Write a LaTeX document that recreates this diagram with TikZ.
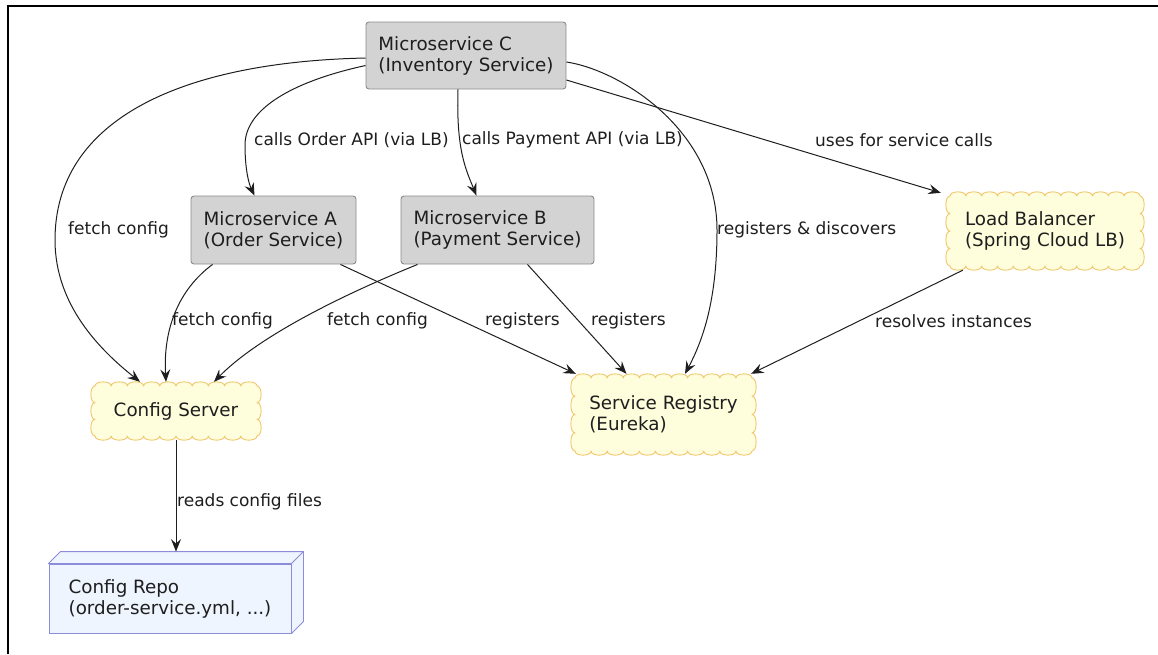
\documentclass[tikz,border=0pt]{standalone}
\usepackage{fontspec}
\setmainfont{DejaVu Sans}
\usetikzlibrary{arrows.meta,calc}

\definecolor{boxfill}{HTML}{D3D3D3}
\definecolor{boxline}{HTML}{8C8C8C}
\definecolor{cloudfill}{HTML}{FEFDDC}
\definecolor{cloudline}{HTML}{F2C66C}
\definecolor{repofill}{HTML}{EEF5FE}
\definecolor{repoline}{HTML}{8C8CDA}
\definecolor{ink}{HTML}{1E1E1E}

\tikzset{
  base/.style={text=ink, align=left, inner sep=0pt},
  nodetext/.style={base, font=\fontsize{18.3}{21}\selectfont},
  svcbox/.style={nodetext, draw=boxline, fill=boxfill, line width=0.9pt, rounded corners=3pt},
  cloudbox/.style={nodetext},
  cloudstyle/.style={draw=cloudline, fill=cloudfill, line width=0.9pt, line join=round},
  repobox/.style={nodetext, draw=repoline, fill=repofill, line width=0.9pt},
  conn/.style={draw=ink, line width=1pt, -{Stealth[length=12.5pt,width=10pt,inset=4.5pt]}},
  lbl/.style={base, font=\fontsize{17}{21}\selectfont, anchor=west},
}

% scalloped outline around the inner rectangle (x1,y1)-(x2,y2), nx bumps across, ny bumps down
\newcommand{\drawcloud}[6]{%
  \pgfmathsetmacro\cxa{#1}\pgfmathsetmacro\cya{#2}%
  \pgfmathsetmacro\cxb{#3}\pgfmathsetmacro\cyb{#4}%
  \pgfmathsetmacro\csx{(#3-#1)/#5}\pgfmathsetmacro\csy{(#4-#2)/#6}%
  \filldraw[cloudstyle] (\cxa,\cya)
    \foreach \i in {1,...,#5} { .. controls ({\cxa+(\i-1)*\csx},{\cya-5.5}) and ({\cxa+\i*\csx},{\cya-5.5}) .. ({\cxa+\i*\csx},\cya) }
    \foreach \i in {1,...,#6} { .. controls ({\cxb+5.5},{\cya+(\i-1)*\csy}) and ({\cxb+5.5},{\cya+\i*\csy}) .. (\cxb,{\cya+\i*\csy}) }
    \foreach \i in {1,...,#5} { .. controls ({\cxb-(\i-1)*\csx},{\cyb+5.5}) and ({\cxb-\i*\csx},{\cyb+5.5}) .. ({\cxb-\i*\csx},\cyb) }
    \foreach \i in {1,...,#6} { .. controls ({\cxa-5.5},{\cyb-(\i-1)*\csy}) and ({\cxa-5.5},{\cyb-\i*\csy}) .. (\cxa,{\cyb-\i*\csy}) }
    -- cycle;
}

\begin{document}
\begin{tikzpicture}[x=1pt, y=-1pt]
\useasboundingbox (0,0) rectangle (1158,654);

% outer frame edges
\draw[line width=1.4pt, black] (8,654) -- (8,6) -- (1158,6);

% services
\node[svcbox, minimum width=200pt, minimum height=67pt] (C) at (466,55.5)
  {Microservice C\\(Inventory Service)};
\node[svcbox, minimum width=165pt, minimum height=68pt] (A) at (273.5,230)
  {Microservice A\\(Order Service)};
\node[svcbox, minimum width=193pt, minimum height=68pt] (B) at (497.5,230)
  {Microservice B\\(Payment Service)};

% infrastructure clouds
\drawcloud{950}{196}{1140}{266}{12}{4}
\node[cloudbox, minimum width=200pt, minimum height=78pt] (LB) at (1045,231)
  {Load Balancer\\(Spring Cloud LB)};
\drawcloud{95}{386}{257}{436}{10}{3}
\node[cloudbox, minimum width=172pt, minimum height=58pt] (CS) at (176,411)
  {Config Server};
\drawcloud{575}{378}{752}{451}{11}{4}
\node[cloudbox, minimum width=187pt, minimum height=81pt] (SR) at (663.5,414.5)
  {Service Registry\\(Eureka)};

% config repository (3D box)
\node[repobox, minimum width=242pt, minimum height=69pt] (R) at (170,598.5)
  {Config Repo\\(order-service.yml, ...)};
\filldraw[draw=repoline, fill=repofill, line width=0.9pt, line join=round]
  (R.north west) -- ++(12,-12) -- ($(R.north east)+(12,-12)$) -- ($(R.south east)+(12,-12)$)
  -- (R.south east) -- (R.north east) -- cycle;
\draw[draw=repoline, line width=0.9pt] (R.north east) -- ++(12,-12);

% connectors from Microservice C
\draw[conn] ($(C.west)+(0,2.5)$) .. controls (180,62) and (55,120) .. (55,240)
  .. controls (55,305) and (100,350) .. ($(CS.north)+(-36,0)$);
\draw[conn] ($(C.west)+(0,10)$) .. controls (290,82) and (245,110) .. (245,145)
  .. controls (245,170) and (249,184) .. ($(A.north)+(-19,0)$);
\draw[conn] ($(C.south)+(-8,0)$) .. controls (456,150) and (466,170) .. ($(B.north)+(-21,0)$);
\draw[conn] ($(C.east)+(0,6.5)$) .. controls (620,70) and (717,130) .. (717,230)
  .. controls (717,300) and (703,340) .. ($(SR.north)+(21.5,0)$);
\draw[conn] ($(C.east)+(0,24.5)$) -- ($(LB.north west)+(-4,1)$);

% connectors from Microservices A and B
\draw[conn] ($(A.south west)+(22,0)$) .. controls (178,290) and (163,330) .. ($(CS.north)+(-10,0)$);
\draw[conn] ($(B.south west)+(17,0)$) .. controls (330,300) and (255,340) .. ($(CS.north)+(38,0)$);
\draw[conn] ($(A.south east)+(-16,0)$) -- ($(SR.north west)+(6,0)$);
\draw[conn] ($(B.south)+(30,0)$) -- ($(SR.north)+(-37,0)$);

% load balancer to registry, config server to repo
\draw[conn] ($(LB.south west)+(18,0)$) -- ($(SR.north east)+(-6,0)$);
\draw[conn] (CS.south) -- ($(R.north)+(6,-12)$);

% connector labels
\node[lbl] (l1) at (68,230) {fetch config};
\node[lbl] (l2) at (254,140) {calls Order API (via LB)};
\node[lbl] (l3) at (462,140) {calls Payment API (via LB)};
\node[lbl] (l4) at (717,230) {registers \& discovers};
\node[lbl] (l5) at (815,140) {uses for service calls};
\node[lbl] (l6) at (172,321) {fetch config};
\node[lbl] (l7) at (327,321) {fetch config};
\node[lbl] (l8) at (485,321) {registers};
\node[lbl] (l9) at (591,321) {registers};
\node[lbl] (l10) at (875,321) {resolves instances};
\node[lbl] (l11) at (177,502) {reads config files};
\end{tikzpicture}
\end{document}
